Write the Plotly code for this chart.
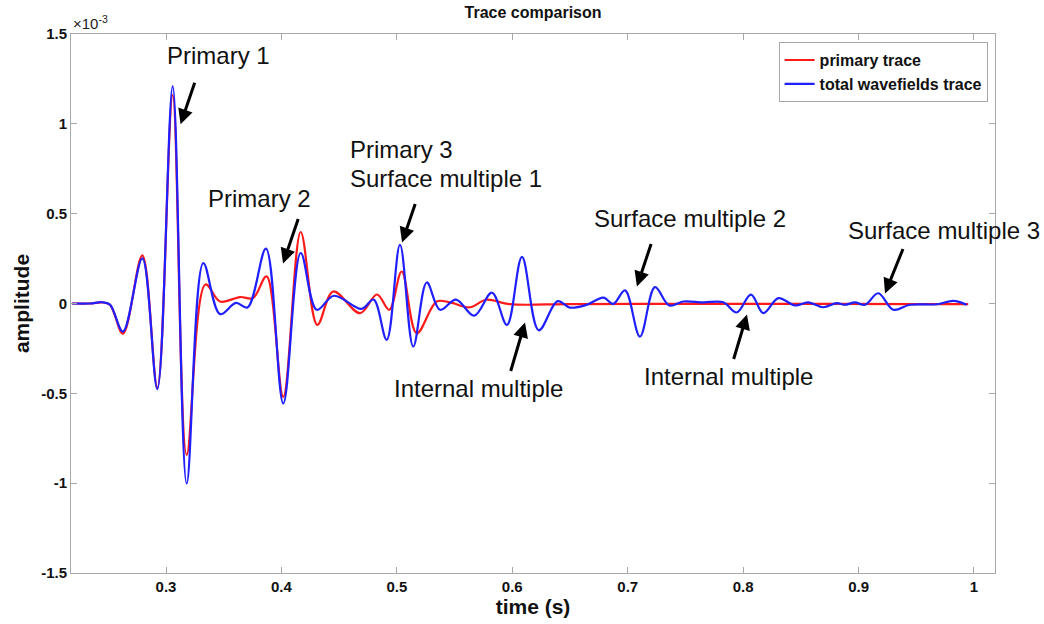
import plotly.graph_objects as go

# time (s) and amplitude (x 1e-3)
total_t = [0.2186, 0.2342, 0.2446, 0.2515, 0.2627, 0.2795, 0.2925, 0.3058, 0.3179, 0.3323,
           0.3468, 0.3606, 0.3706, 0.3866, 0.4016, 0.4167, 0.4306, 0.4455, 0.4695, 0.4798,
           0.4912, 0.5027, 0.5142, 0.5259, 0.5374, 0.5512, 0.5670, 0.5824, 0.5954, 0.6084,
           0.6229, 0.6392, 0.6500, 0.6645, 0.6789, 0.6875, 0.6977, 0.7106, 0.7236, 0.7360,
           0.7482, 0.7655, 0.7828, 0.7944, 0.8068, 0.8175, 0.8305, 0.8449, 0.8564, 0.8694,
           0.8811, 0.8882, 0.8969, 0.9056, 0.9171, 0.9301, 0.9445, 0.9677, 0.9821, 0.9937]
total_amp = [0.0, 0.0, 0.007, -0.006, -0.156, 0.251, -0.477, 1.210, -1.002, 0.225,
             -0.059, 0.003, -0.022, 0.305, -0.556, 0.281, -0.035, 0.043, -0.030, 0.022,
             -0.202, 0.327, -0.240, 0.117, -0.035, 0.022, -0.068, 0.060, -0.119, 0.260,
             -0.149, 0.013, -0.023, -0.007, 0.033, -0.002, 0.073, -0.184, 0.091, -0.011,
             0.011, 0.006, 0.007, -0.050, 0.049, -0.054, 0.030, -0.011, 0.006, -0.021,
             0.002, -0.007, 0.006, -0.007, 0.057, -0.035, -0.007, -0.004, 0.015, -0.007]

primary_t = [0.2186, 0.2342, 0.2446, 0.2515, 0.2627, 0.2795, 0.2925, 0.3058, 0.3179, 0.3342,
             0.3468, 0.3641, 0.3754, 0.3871, 0.4016, 0.4167, 0.4311, 0.4449, 0.4681, 0.4828,
             0.4934, 0.5042, 0.5172, 0.5345, 0.5460, 0.5634, 0.5772, 0.5980, 0.6500, 0.7500,
             0.8500, 0.9500, 0.9950]
primary_amp = [0.0, 0.0, 0.006, -0.008, -0.168, 0.268, -0.468, 1.160, -0.842, 0.106,
               0.011, 0.036, 0.030, 0.151, -0.519, 0.398, -0.119, 0.067, -0.054, 0.050,
               -0.035, 0.178, -0.166, 0.011, 0.006, -0.021, 0.021, -0.004, -0.003, -0.002,
               -0.002, -0.003, -0.003]

x_ticks = [0.3, 0.4, 0.5, 0.6, 0.7, 0.8, 0.9, 1.0]
x_tick_text = ["0.3", "0.4", "0.5", "0.6", "0.7", "0.8", "0.9", "1"]
y_ticks = [-1.5, -1.0, -0.5, 0.0, 0.5, 1.0, 1.5]
y_tick_text = ["-1.5", "-1", "-0.5", "0", "0.5", "1", "1.5"]

# text labels: (text, t, amp, xanchor)
labels = [
    ("Primary 1", 0.3455, 1.378, "center"),
    ("Primary 2", 0.3814, 0.586, "center"),
    ("Primary 3", 0.4577, 0.859, "left"),
    ("Surface multiple 1", 0.4577, 0.697, "left"),
    ("Surface multiple 2", 0.7540, 0.474, "center"),
    ("Surface multiple 3", 0.9740, 0.407, "center"),
    ("Internal multiple", 0.5703, -0.474, "center"),
    ("Internal multiple", 0.7869, -0.407, "center"),
]
# arrows: head (t, amp), tail offset (px)
arrows = [
    (0.3126, 0.998, 15, -44),
    (0.4014, 0.223, 16, -47),
    (0.5045, 0.340, 14, -41),
    (0.6110, -0.106, -15, 51),
    (0.7080, 0.095, 15, -45),
    (0.8033, -0.061, -14, 47),
    (0.9229, 0.056, 19, -47),
]

FONT = "Liberation Sans, Arial, Helvetica, sans-serif"
AX = "#a8a8a8"

fig = go.Figure()
fig.add_trace(go.Scatter(x=primary_t, y=primary_amp, mode="lines", name="primary trace",
                         line=dict(color="#ff1a1a", width=2.2, shape="spline", smoothing=1.0)))
fig.add_trace(go.Scatter(x=total_t, y=total_amp, mode="lines", name="total wavefields trace",
                         line=dict(color="#1f1fff", width=2.2, shape="spline", smoothing=1.0)))

anns = []
for txt, t, a, xa in labels:
    anns.append(dict(x=t, y=a, xref="x", yref="y", text=txt, showarrow=False,
                     xanchor=xa, yanchor="middle",
                     font=dict(family=FONT, size=24, color="#111111")))
for t, a, dx, dy in arrows:
    anns.append(dict(x=t, y=a, xref="x", yref="y", text=" ", showarrow=True,
                     ax=dx, ay=dy, arrowhead=2, arrowsize=1, arrowwidth=3,
                     arrowcolor="#000000", font=dict(size=2)))
anns.append(dict(x=0, y=1, xref="paper", yref="paper", text="\u00d710<sup>-3</sup>",
                 showarrow=False, xanchor="left", yanchor="bottom", yshift=0,
                 font=dict(family=FONT, size=15, color="#222222")))

fig.update_layout(
    width=1044, height=624,
    margin=dict(l=71, r=49, t=34, b=51),
    paper_bgcolor="white", plot_bgcolor="white",
    font=dict(family=FONT, color="#111111"),
    title=dict(text="<b>Trace comparison</b>", x=0.5106, xanchor="center",
               y=1 - 12 / 624, yanchor="middle", yref="container",
               font=dict(family=FONT, size=16, color="#111111")),
    showlegend=True,
    legend=dict(x=0.992, xanchor="right", y=0.985, yanchor="top",
                bgcolor="white", bordercolor=AX, borderwidth=1,
                font=dict(family=FONT, size=16, color="#111111", weight="bold"),
                itemwidth=30, tracegroupgap=0),
    annotations=anns,
)
fig.update_xaxes(range=[0.2177, 1.0182], tickvals=x_ticks, ticktext=x_tick_text,
                 showgrid=False, zeroline=False, showline=True, linecolor=AX, linewidth=1,
                 mirror="allticks", ticks="inside", ticklen=6, tickcolor=AX,
                 tickfont=dict(family=FONT, size=15, color="#111111", weight="bold"),
                 title=dict(text="<b>time (s)</b>", standoff=1,
                            font=dict(family=FONT, size=21, color="#111111")))
fig.update_yaxes(range=[-1.5, 1.5], tickvals=y_ticks, ticktext=y_tick_text,
                 showgrid=False, zeroline=False, showline=True, linecolor=AX, linewidth=1,
                 mirror="allticks", ticks="inside", ticklen=6, tickcolor=AX,
                 tickfont=dict(family=FONT, size=15, color="#111111", weight="bold"),
                 title=dict(text="<b>amplitude</b>", standoff=5,
                            font=dict(family=FONT, size=21, color="#111111")))

fig.write_html("out.html")
